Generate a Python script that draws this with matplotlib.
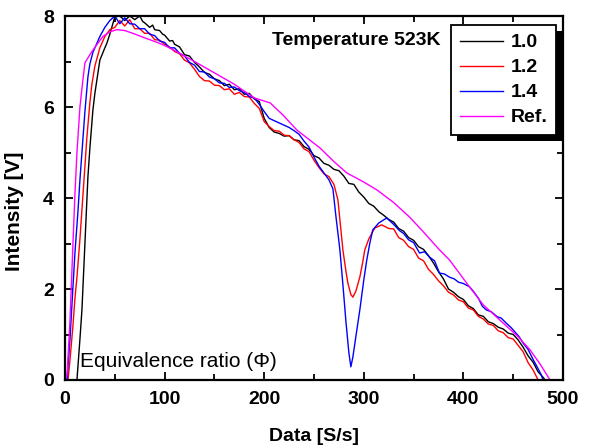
import matplotlib
matplotlib.use("Agg")
import matplotlib.pyplot as plt
from matplotlib.patches import Rectangle

plt.rcParams['font.family'] = ['Liberation Sans', 'DejaVu Sans']

# ---- data ----
x_10 = [12, 15, 17, 20, 23, 25, 28, 30, 35, 40, 42, 45, 50, 55, 60, 65, 70, 75, 78, 80, 85, 88, 90, 95, 98,
        100, 105, 108, 110, 115, 120, 125, 130, 135, 140, 145, 150, 155, 160, 165, 170, 175, 180, 185, 190, 195,
        200, 205, 210, 215, 220, 225, 230, 235, 240, 245, 250, 255, 260, 265, 270, 275, 280, 285, 290, 295,
        300, 305, 310, 315, 320, 325, 330, 335, 340, 345, 350, 355, 360, 365, 370, 375, 380, 385, 390, 395,
        400, 405, 410, 415, 420, 425, 430, 435, 440, 445, 450, 455, 460, 465, 470, 475, 480, 482]
y_10 = [0.0, 0.9, 1.54, 3.0, 4.46, 5.1, 5.93, 6.3, 7.03, 7.3, 7.4, 7.6, 7.98, 8.0, 7.9, 8.0, 7.92, 8.0, 7.88, 7.85,
        7.75, 7.8, 7.7, 7.68, 7.6, 7.58, 7.45, 7.46, 7.38, 7.32, 7.15, 7.12, 6.98, 6.88, 6.76, 6.72, 6.62, 6.58, 6.47,
        6.5, 6.38, 6.4, 6.28, 6.3, 6.18, 6.12, 5.75, 5.55, 5.45, 5.42, 5.36, 5.37, 5.28, 5.26, 5.13, 5.07, 4.93,
        4.88, 4.76, 4.72, 4.63, 4.6, 4.48, 4.32, 4.3, 4.13, 4.02, 3.88, 3.82, 3.7, 3.62, 3.53, 3.47, 3.33, 3.27, 3.13,
        3.07, 2.93, 2.87, 2.73, 2.57, 2.38, 2.22, 2.0, 1.93, 1.83, 1.77, 1.63, 1.57, 1.43, 1.4, 1.28, 1.24, 1.16,
        1.12, 1.03, 1.0, 0.88, 0.72, 0.53, 0.39, 0.18, 0.06, 0.0]

x_12 = [3, 5, 8, 10, 12, 15, 17, 20, 22, 25, 27, 30, 35, 40, 45, 50, 55, 60, 65, 70, 75, 80, 85, 90, 95,
        100, 105, 110, 115, 120, 125, 130, 135, 140, 145, 150, 155, 160, 165, 170, 175, 180, 185, 190, 195,
        200, 205, 210, 215, 220, 225, 230, 235, 240, 245, 250, 255, 260, 265, 270, 274, 277, 279, 282, 284,
        287, 289, 292, 296, 299, 301, 305, 311, 318, 325, 330, 335, 340, 345, 350, 355, 360, 365, 370, 375,
        380, 385, 390, 395, 400, 405, 410, 415, 420, 425, 430, 435, 440, 445, 450, 455, 460, 465, 470, 475]
y_12 = [0.0, 0.44, 1.2, 1.8, 2.26, 3.1, 3.74, 4.7, 5.34, 6.1, 6.5, 6.9, 7.3, 7.55, 7.7, 7.75, 7.9, 7.78, 7.92,
        7.72, 7.72, 7.62, 7.62, 7.48, 7.47, 7.38, 7.32, 7.22, 7.17, 7.03, 6.97, 6.83, 6.67, 6.58, 6.57, 6.48, 6.47,
        6.38, 6.4, 6.28, 6.32, 6.23, 6.22, 6.08, 5.97, 5.68, 5.57, 5.48, 5.47, 5.38, 5.37, 5.28, 5.22, 5.08, 5.02, 4.83,
        4.67, 4.53, 4.47, 4.3, 3.96, 3.3, 2.86, 2.4, 2.13, 1.88, 1.82, 1.95, 2.26, 2.6, 2.86, 3.1, 3.34, 3.41,
        3.33, 3.32, 3.13, 3.07, 2.93, 2.87, 2.68, 2.62, 2.43, 2.32, 2.18, 2.07, 1.93, 1.87, 1.76, 1.72, 1.58, 1.54,
        1.4, 1.34, 1.23, 1.2, 1.08, 1.04, 0.93, 0.9, 0.76, 0.62, 0.38, 0.22, 0.0]

x_14 = [2, 3, 5, 8, 10, 13, 15, 18, 20, 23, 25, 28, 32, 35, 40, 45, 50, 55, 60, 65, 70, 75, 80, 85, 90, 95,
        100, 105, 110, 115, 120, 125, 130, 135, 140, 145, 150, 155, 160, 165, 170, 175, 180, 185, 190, 195,
        200, 205, 210, 215, 220, 225, 230, 235, 240, 245, 250, 255, 260, 265, 269, 272, 276, 279, 282, 285,
        287, 289, 292, 296, 300, 303, 306, 309, 315, 320, 323, 326, 330, 336, 340, 345, 350, 356, 361, 366,
        371, 376, 381, 386, 391, 395, 400, 406, 410, 415, 419, 423, 428, 434, 438, 443, 448, 452, 456, 460,
        465, 470, 474, 478, 480]
y_14 = [0.0, 0.3, 0.9, 2.05, 2.8, 3.7, 4.4, 5.3, 5.9, 6.66, 6.95, 7.2, 7.4, 7.55, 7.75, 7.9, 8.0, 7.83, 7.96,
        7.83, 7.82, 7.72, 7.72, 7.6, 7.57, 7.45, 7.42, 7.3, 7.3, 7.18, 7.12, 6.98, 6.92, 6.78, 6.77, 6.66, 6.62,
        6.53, 6.52, 6.43, 6.44, 6.36, 6.32, 6.23, 6.2, 6.06, 5.9, 5.75, 5.7, 5.65, 5.6, 5.55, 5.48, 5.4, 5.25,
        5.12, 4.9, 4.7, 4.55, 4.4, 4.2, 3.6, 2.86, 2.1, 1.3, 0.6, 0.29, 0.5, 0.95, 1.54, 2.2, 2.64, 3.0, 3.3,
        3.45, 3.52, 3.56, 3.5, 3.42, 3.28, 3.22, 3.08, 3.02, 2.79, 2.82, 2.7, 2.62, 2.35, 2.33, 2.26, 2.22,
        2.15, 2.12, 2.05, 1.95, 1.8, 1.62, 1.54, 1.5, 1.39, 1.36, 1.25, 1.15, 1.05, 0.95, 0.81, 0.67, 0.45,
        0.29, 0.12, 0.0]

x_ref = [0, 2, 5, 8, 10, 12, 15, 18, 20, 25, 28, 33, 38, 45, 52, 60, 68, 80, 95, 105, 115, 130, 150, 170,
         190, 206, 219, 233, 243, 256, 270, 283, 300, 313, 330, 346, 360, 376, 386, 406, 420, 440, 455, 467,
         477, 487]
y_ref = [0.0, 0.1, 1.3, 3.0, 4.1, 5.0, 6.0, 6.6, 6.97, 7.15, 7.25, 7.4, 7.55, 7.65, 7.7, 7.68, 7.62, 7.52,
         7.4, 7.3, 7.18, 7.0, 6.75, 6.5, 6.2, 6.09, 5.82, 5.49, 5.32, 5.1, 4.8, 4.55, 4.35, 4.18, 3.9, 3.58,
         3.25, 2.86, 2.64, 2.05, 1.65, 1.25, 0.95, 0.66, 0.35, 0.0]

series = [
    ("1.0", x_10, y_10, "#000000"),
    ("1.2", x_12, y_12, "#ff0000"),
    ("1.4", x_14, y_14, "#0000ff"),
    ("Ref.", x_ref, y_ref, "#ff00ff"),
]

x_ticks = [0, 100, 200, 300, 400, 500]
y_ticks = [0, 2, 4, 6, 8]

fig = plt.figure(figsize=(5.95, 4.47), dpi=100)
ax = fig.add_axes([65 / 595, 67 / 447, 498 / 595, 364 / 447])

for label, xs, ys, c in series:
    ax.plot(xs, ys, color=c, lw=1.0, label=label)

ax.set_xlim(0, 500)
ax.set_ylim(0, 8)
ax.set_xticks(x_ticks)
ax.set_yticks(y_ticks)
ax.set_xticks(range(50, 500, 100), minor=True)
ax.set_yticks([1, 3, 5, 7], minor=True)
ax.tick_params(which='both', direction='in', top=True, right=True, width=1.3)
ax.tick_params(which='major', length=6, labelsize=14, pad=8)
ax.tick_params(which='minor', length=4)
for lab in ax.get_xticklabels() + ax.get_yticklabels():
    lab.set_fontweight('bold')
for s in ax.spines.values():
    s.set_linewidth(1.6)

ax.set_xlabel("Data [S/s]", fontsize=14, fontweight='bold', labelpad=14)
ax.set_ylabel("Intensity [V]", fontsize=15, fontweight='bold', labelpad=6)
ax.yaxis.set_label_coords(-0.082, 0.464)

ax.text(0.416, 0.934, "Temperature 523K", transform=ax.transAxes, fontsize=14,
        fontweight='bold', va='center', ha='left')
ax.text(0.03, 0.05, "Equivalence ratio (Φ)", transform=ax.transAxes, fontsize=15,
        va='center', ha='left')

leg = ax.legend(loc='upper right', bbox_to_anchor=(0.986, 0.975), frameon=True, fancybox=False,
                framealpha=1, prop={'weight': 'bold', 'size': 14}, handlelength=2.2,
                labelspacing=0.38, borderpad=0.45, handletextpad=0.4, borderaxespad=0)
leg.get_frame().set_edgecolor('black')
leg.get_frame().set_linewidth(1.3)
leg.set_zorder(6)

fig.canvas.draw()
bb = leg.get_window_extent()
shadow = Rectangle((bb.x0 + 6, bb.y0 - 6), bb.width, bb.height, transform=None,
                   facecolor='black', edgecolor='none', zorder=5, clip_on=False)
ax.add_artist(shadow)

fig.savefig("out.png", dpi=100)
